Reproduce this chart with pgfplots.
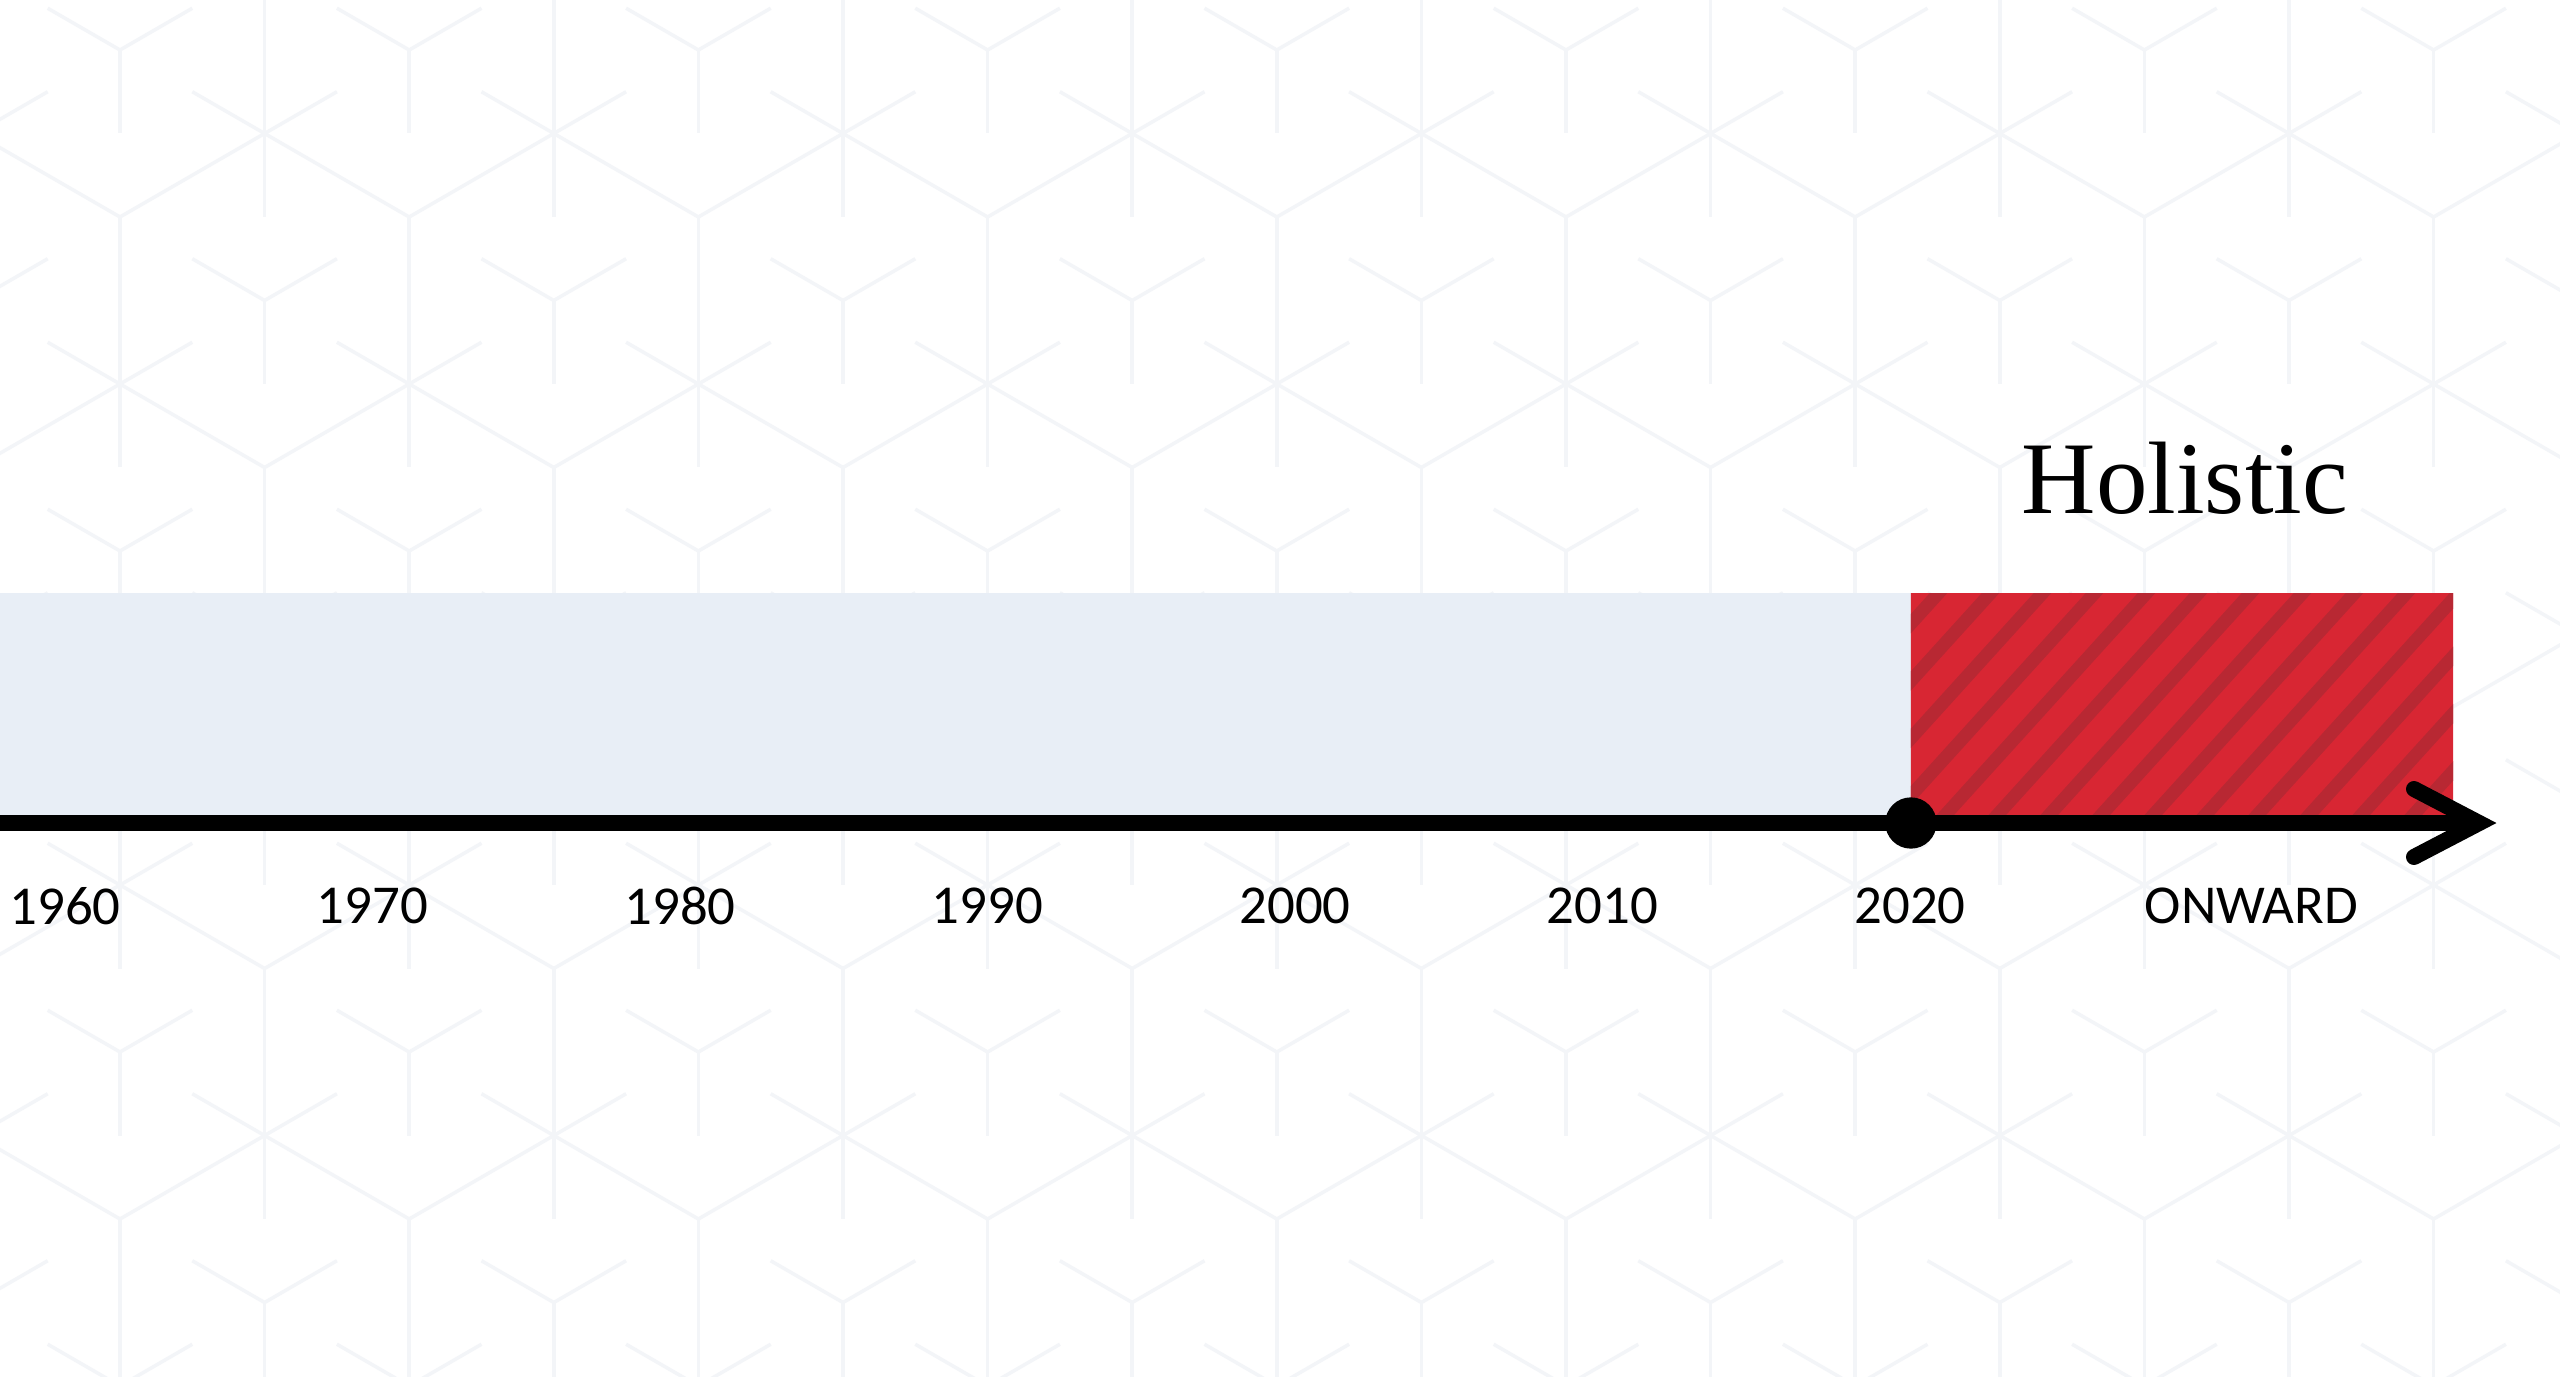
\documentclass[border=0pt]{standalone}
\usepackage{pgfplots}
\pgfplotsset{compat=1.18}
\usepackage{fontspec}
\setmainfont{Carlito}
\newfontfamily\holfont{Liberation Serif}
\definecolor{bandblue}{HTML}{E8EEF6}
\definecolor{boxred}{HTML}{D82633}
\definecolor{stripered}{HTML}{B82833}
\definecolor{patgray}{HTML}{F3F5F8}
\begin{document}
\begin{tikzpicture}
\path[use as bounding box] (0,0) rectangle (25.6,13.76);
\fill[white] (0,0) rectangle (25.6,13.76);
% faint background cube pattern (decoration)
\begin{scope}
\clip (0,0) rectangle (25.6,13.76);
\tikzset{patline/.style={draw=patgray, line width=0.035cm, line cap=butt}}
\foreach \m in {-2,...,5}{
  \foreach \n in {-4,...,10}{
    \pgfmathsetmacro\px{1.20+\m*1.446+\n*2.892}
    \pgfmathsetmacro\py{13.76-0.50-\m*2.505}
    \pgfmathsetmacro\qy{\py-3.34}
    \draw[patline] (\px-0.723,\py+0.4175) -- (\px,\py) -- (\px+0.723,\py+0.4175);
    \draw[patline] (\px,\py) -- (\px,\py-0.835);
    \draw[patline] (\px,\qy+1.67) -- (\px,\qy-0.835);
    \draw[patline] (\px-0.723,\qy+0.4175) -- (\px+1.446,\qy-0.835);
    \draw[patline] (\px+0.723,\qy+0.4175) -- (\px-1.446,\qy-0.835);
  }}
\end{scope}
\begin{axis}[
  at={(0,0)}, anchor=south west,
  scale only axis, width=25.6cm, height=13.76cm,
  xmin=1957.886, xmax=2041.14, ymin=0, ymax=1376,
  axis x line=bottom, axis y line=none,
  x axis line style={draw=none,-},
  xtick style={draw=none}, major tick length=0pt,
  ytick=\empty,
  xtick={1960,1970,1980,1990,2000,2010,2020,2031.1},
  xticklabels={1960,1970,1980,1990,2000,2010,2020,ONWARD},
  xticklabel style={font=\fontsize{15.6}{18}\selectfont, anchor=center, yshift=4.70cm, text=black},
  /pgf/number format/assume math mode=true,
  clip=true,
]
% blue period band
\addplot[fill=bandblue, draw=none] coordinates {(1955,553) (2020.05,553) (2020.05,783) (1955,783) (1955,553)};
% red period box
\addplot[fill=boxred, draw=none]
  coordinates {(2020.03,553) (2037.66,553) (2037.66,783) (2020.03,783) (2020.03,553)};
% diagonal stripes inside the red box
\begin{scope}
\clip (axis cs:2020.03,553) rectangle (axis cs:2037.66,783);
\pgfplotsinvokeforeach{-3,...,14}{
  \draw[stripered, line width=0.13cm]
    (axis cs:{2022.47+#1*1.691-8.106},503) -- (axis cs:{2022.47+#1*1.691+1.626},833);
}
\end{scope}
% timeline
\addplot[black, line width=0.16cm, line cap=butt] coordinates {(1955,553) (2038.4,553)};
% arrow head
\addplot[black, line width=0.16cm, line cap=round, line join=miter] coordinates {(2036.39,587) (2038.51,553) (2036.39,519)};
% 2020 marker
\addplot[only marks, mark=*, mark size=7.1pt, black] coordinates {(2020.03,553)};
\node[font=\holfont\fontsize{29.3}{34}\selectfont, anchor=base, text=black] at (axis cs:2028.94,863) {Holistic};
\end{axis}
\end{tikzpicture}
\end{document}
